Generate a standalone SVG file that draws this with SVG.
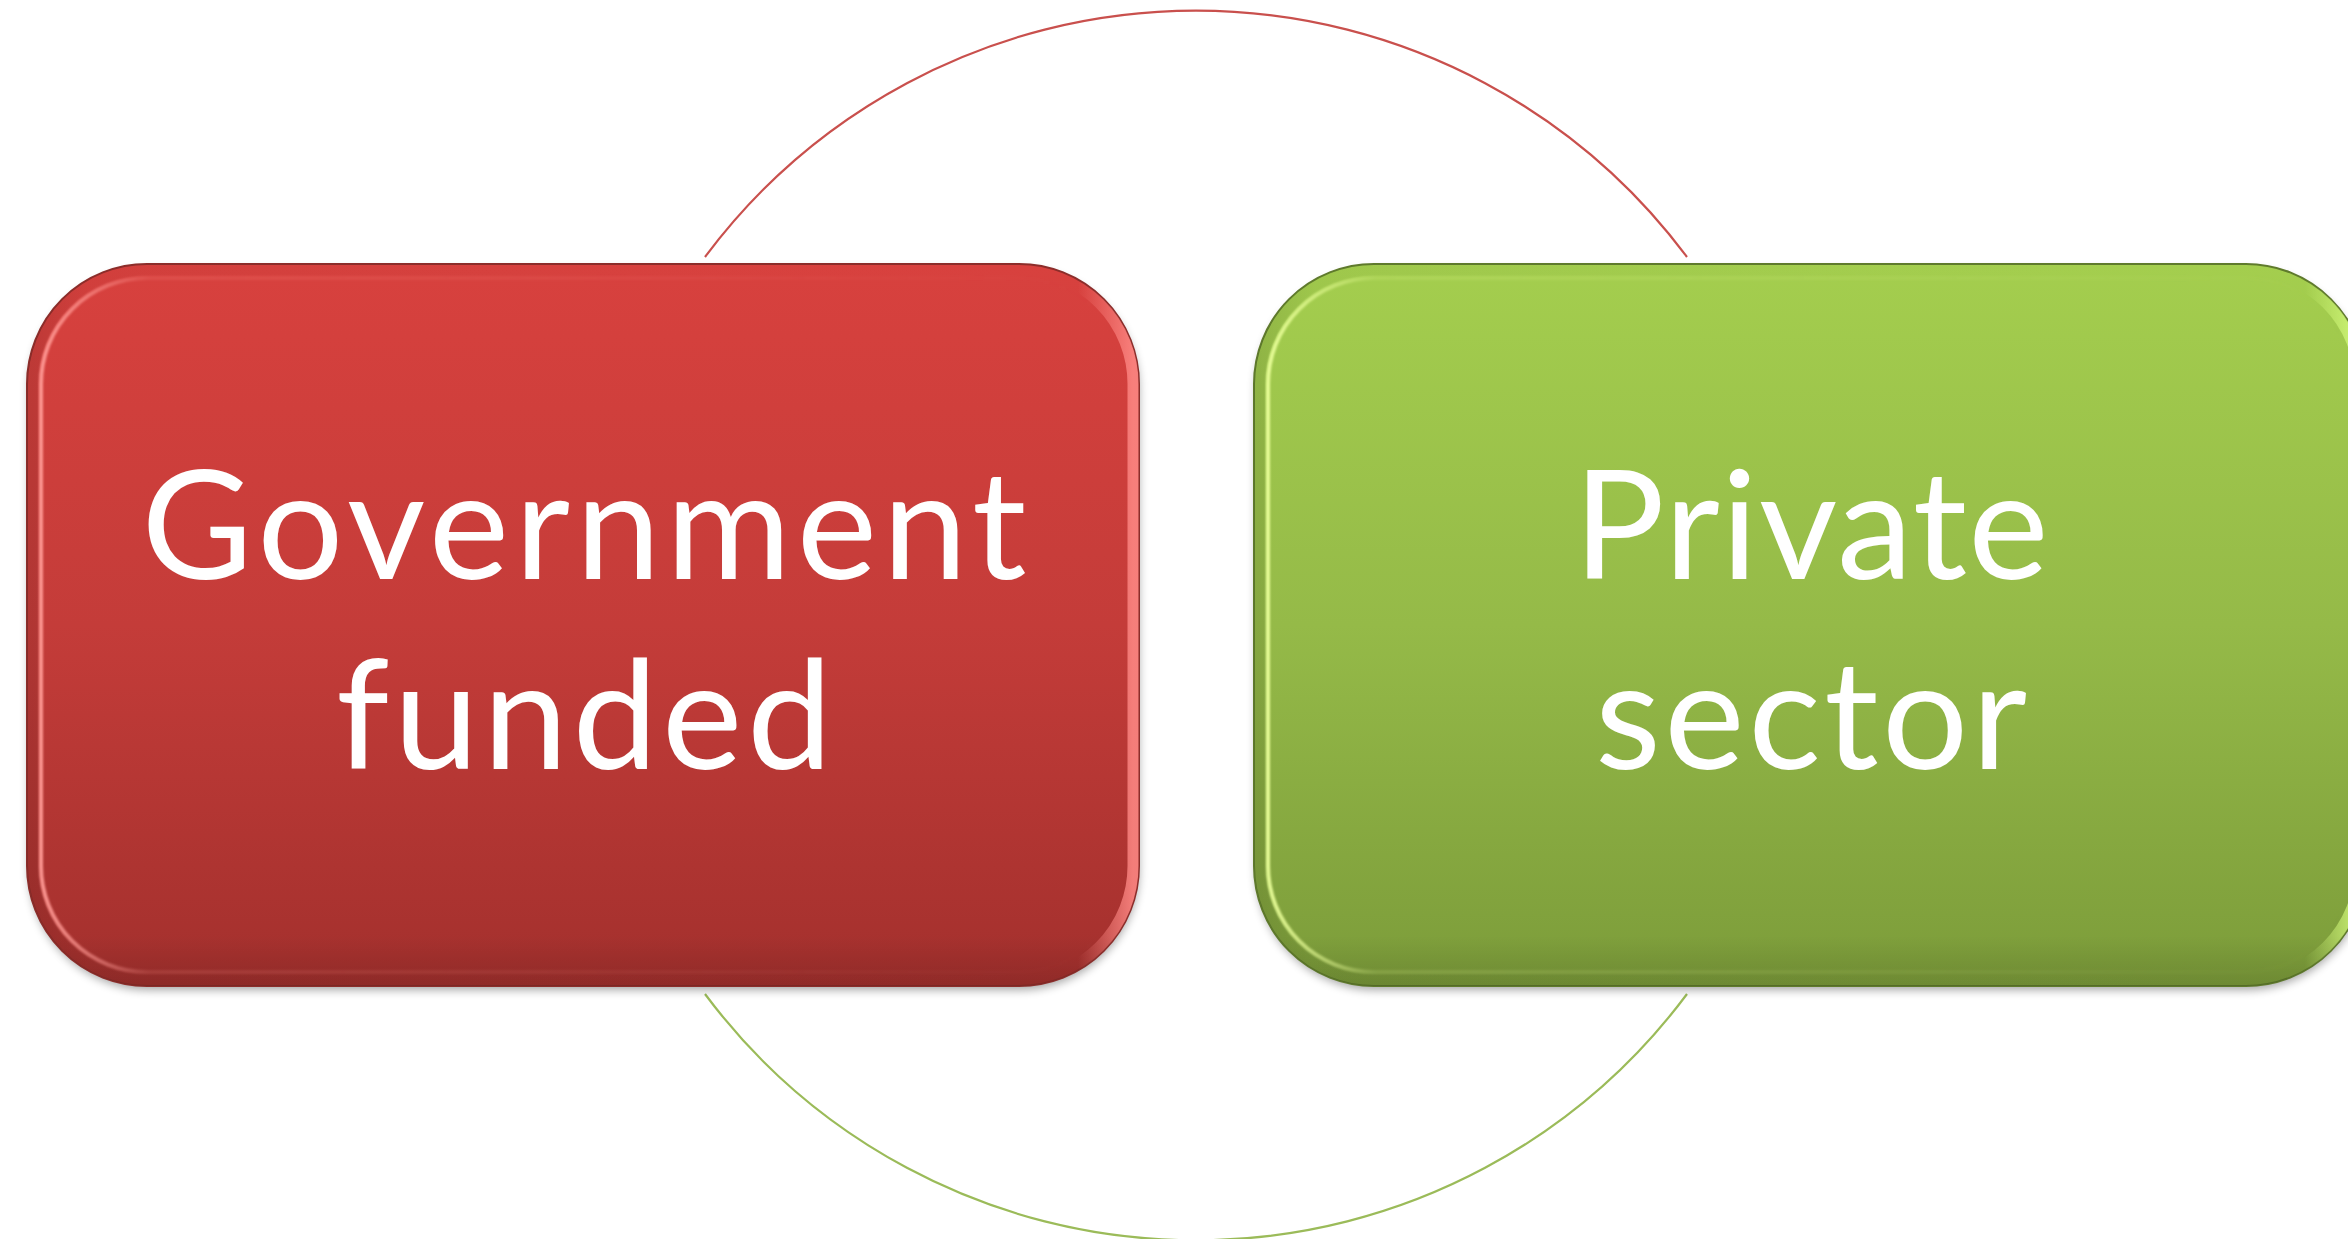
<svg xmlns="http://www.w3.org/2000/svg" width="2348" height="1239" viewBox="0 0 2348 1239">
  <style>
    .label { font-family: Lato, "Liberation Sans", sans-serif; font-size: 152px; fill: #ffffff; text-anchor: middle; }
    .arc { fill: none; stroke-width: 2.2; }
    .edge-red { stroke: #8c2d2a; stroke-width: 2; }
    .edge-green { stroke: #5f7a2c; stroke-width: 2; }
  </style>
  <defs>
    <linearGradient id="fillRed" x1="0" y1="0" x2="0" y2="1">
      <stop offset="0" stop-color="#d8413e"/>
      <stop offset="0.5" stop-color="#c43c39"/>
      <stop offset="1" stop-color="#a3302d"/>
    </linearGradient>
    <linearGradient id="fillGreen" x1="0" y1="0" x2="0" y2="1">
      <stop offset="0" stop-color="#a4ce4e"/>
      <stop offset="0.5" stop-color="#95ba48"/>
      <stop offset="1" stop-color="#7c9c3a"/>
    </linearGradient>
    <!-- bevel band: dark on the left, light on the right -->
    <linearGradient id="bandRed" x1="0" y1="0" x2="1" y2="0">
      <stop offset="0" stop-color="#000000" stop-opacity="0.10"/>
      <stop offset="0.05" stop-color="#000000" stop-opacity="0.03"/>
      <stop offset="0.95" stop-color="#ff8a86" stop-opacity="0"/>
      <stop offset="1" stop-color="#ff8a86" stop-opacity="0.85"/>
    </linearGradient>
    <linearGradient id="bandGreen" x1="0" y1="0" x2="1" y2="0">
      <stop offset="0" stop-color="#000000" stop-opacity="0.10"/>
      <stop offset="0.05" stop-color="#000000" stop-opacity="0.03"/>
      <stop offset="0.95" stop-color="#d8ff80" stop-opacity="0"/>
      <stop offset="1" stop-color="#d8ff80" stop-opacity="0.85"/>
    </linearGradient>
    <!-- inner rim highlight on the left side -->
    <linearGradient id="rimRed" x1="0" y1="0" x2="1" y2="0">
      <stop offset="0" stop-color="#ff9a95" stop-opacity="0.95"/>
      <stop offset="0.1" stop-color="#ff9a95" stop-opacity="0.15"/>
      <stop offset="1" stop-color="#ff9a95" stop-opacity="0"/>
    </linearGradient>
    <linearGradient id="rimGreen" x1="0" y1="0" x2="1" y2="0">
      <stop offset="0" stop-color="#eaff9a" stop-opacity="0.95"/>
      <stop offset="0.1" stop-color="#eaff9a" stop-opacity="0.15"/>
      <stop offset="1" stop-color="#eaff9a" stop-opacity="0"/>
    </linearGradient>
    <linearGradient id="bottomShade" x1="0" y1="0" x2="0" y2="1">
      <stop offset="0" stop-color="#000000" stop-opacity="0"/>
      <stop offset="0.93" stop-color="#000000" stop-opacity="0"/>
      <stop offset="1" stop-color="#000000" stop-opacity="0.12"/>
    </linearGradient>
    <filter id="shadow" x="-5%" y="-5%" width="110%" height="115%">
      <feGaussianBlur stdDeviation="5"/>
    </filter>
    <filter id="soft" x="-5%" y="-5%" width="110%" height="110%">
      <feGaussianBlur stdDeviation="1.2"/>
    </filter>
  </defs>

  <rect width="2348" height="1239" fill="#ffffff"/>

  <!-- cycle arcs linking the two boxes -->
  <g id="connectors">
    <path class="arc" stroke="#c9504d" d="M 705 257 A 612.5 612.5 0 0 1 1687 257"/>
    <path class="arc" stroke="#9bbb59" d="M 1687 994 A 612.5 612.5 0 0 1 705 994"/>
  </g>

  <g id="node-government">
    <rect x="29" y="270" width="1110" height="720" rx="120" fill="#000000" opacity="0.35" filter="url(#shadow)"/>
    <rect x="27" y="264" width="1112" height="722" rx="120" fill="url(#fillRed)" class="edge-red"/>
    <rect x="33" y="270" width="1100" height="710" rx="114" fill="none" stroke="url(#bandRed)" stroke-width="11"/>
    <rect x="27" y="264" width="1112" height="722" rx="120" fill="url(#bottomShade)"/>
    <rect x="41" y="278" width="1084" height="694" rx="106" fill="none" stroke="url(#rimRed)" stroke-width="4" filter="url(#soft)"/>
    <text class="label" x="584" y="579" textLength="885" lengthAdjust="spacing">Government</text>
    <text class="label" x="584" y="769" textLength="496" lengthAdjust="spacing">funded</text>
  </g>

  <g id="node-private">
    <rect x="1256" y="270" width="1110" height="720" rx="120" fill="#000000" opacity="0.35" filter="url(#shadow)"/>
    <rect x="1254" y="264" width="1112" height="722" rx="120" fill="url(#fillGreen)" class="edge-green"/>
    <rect x="1260" y="270" width="1100" height="710" rx="114" fill="none" stroke="url(#bandGreen)" stroke-width="11"/>
    <rect x="1254" y="264" width="1112" height="722" rx="120" fill="url(#bottomShade)"/>
    <rect x="1268" y="278" width="1084" height="694" rx="106" fill="none" stroke="url(#rimGreen)" stroke-width="4" filter="url(#soft)"/>
    <text class="label" x="1811" y="579" textLength="475" lengthAdjust="spacing">Private</text>
    <text class="label" x="1811" y="769" textLength="432" lengthAdjust="spacing">sector</text>
  </g>
</svg>
